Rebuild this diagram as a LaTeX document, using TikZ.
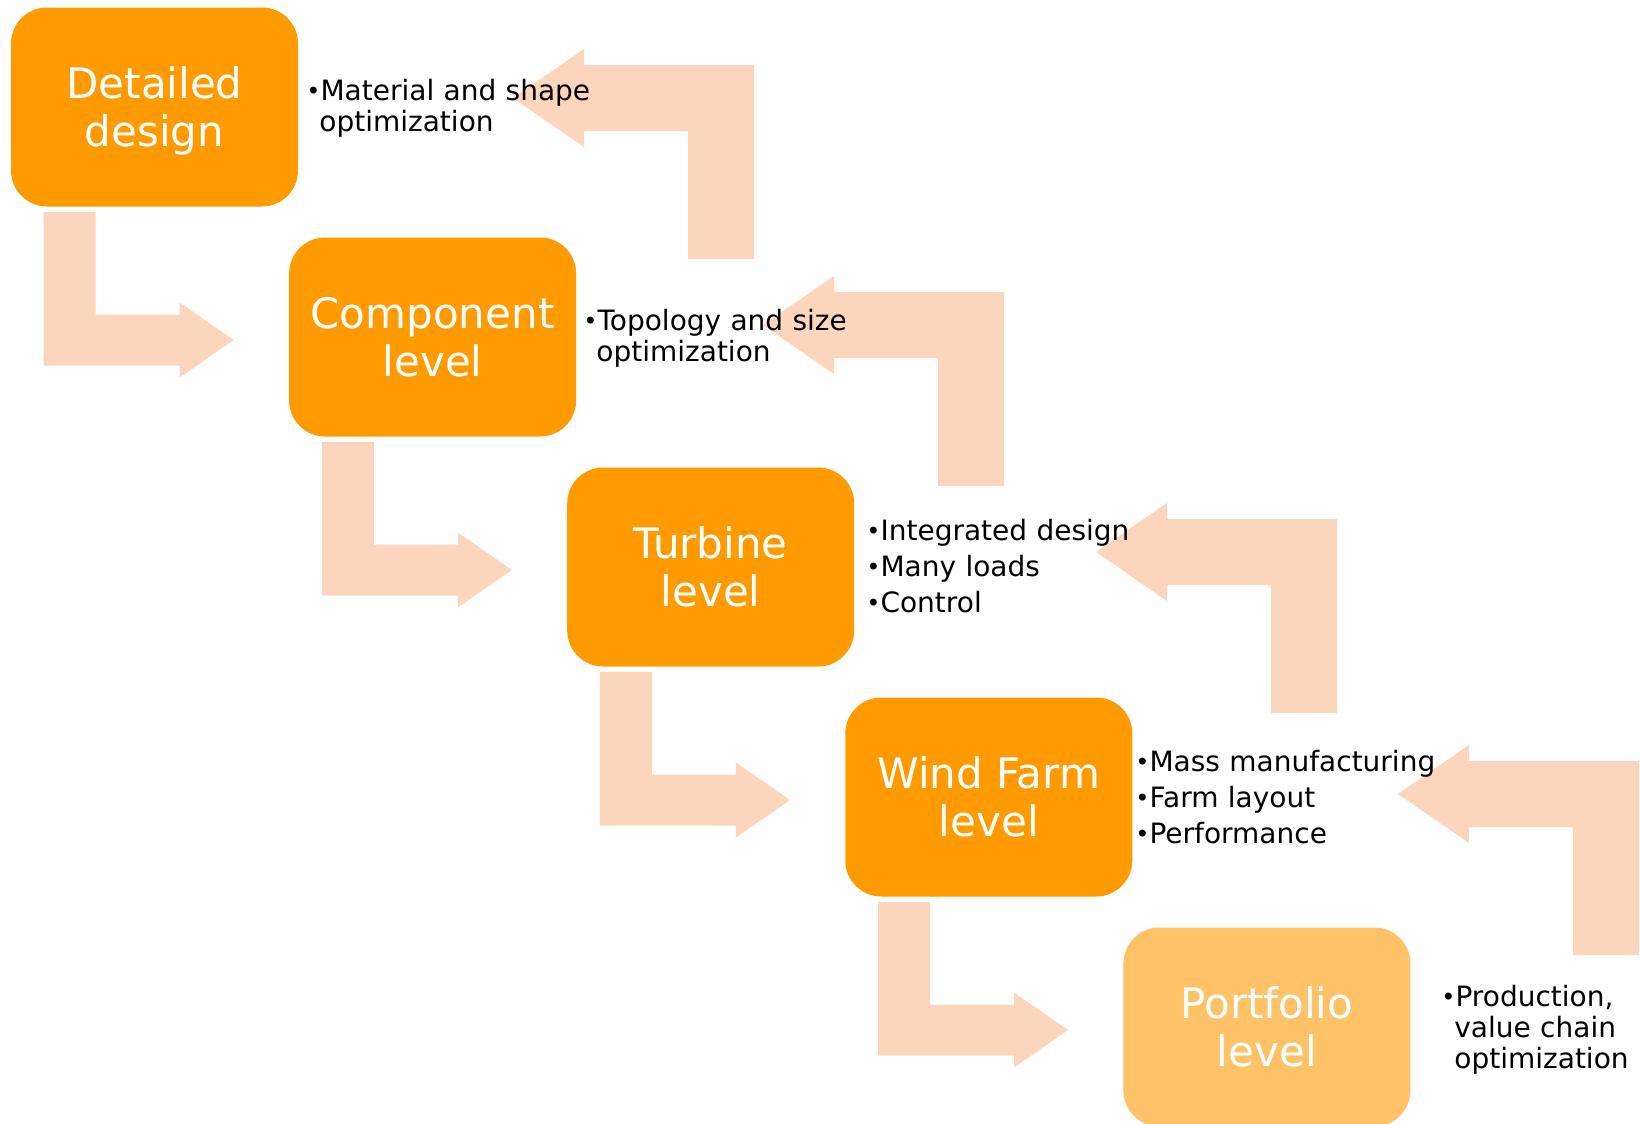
\documentclass[tikz,border=0pt]{standalone}
\usepackage{fontspec}
\setmainfont{DejaVu Sans}
\usetikzlibrary{calc}
\definecolor{boxorange}{HTML}{FF9A00}
\definecolor{boxlight}{HTML}{FFC266}
\definecolor{peach}{HTML}{FCD5BD}
\newcommand{\bul}{\raisebox{0.5pt}{\fontsize{12}{12}\selectfont •}}
\newcommand{\cont}{\hspace*{6.5pt}}

\tikzset{
	stage/.style={fill=boxorange, text=white, rounded corners=18pt, minimum width=143.5pt, minimum height=99.5pt,
		align=center, inner sep=0pt, font=\fontsize{21}{24}\selectfont},
	bullets/.style={anchor=base west, inner sep=0pt, text width=150pt, align=left, font=\fontsize{14}{15.5}\selectfont},
	downbend/.pic={\fill[peach] (-190,-128) -- (-138,-128) -- (-138,-25.5) -- (-54,-25.5) -- (-54,-37.5) -- (0,0)
		-- (-54,37.5) -- (-54,25.5) -- (-190,25.5) -- cycle;},
	upbend/.pic={\fill[peach] (0,0) -- (71,-49) -- (71,-33) -- (241,-33) -- (241,161) -- (175,161) -- (175,33)
		-- (71,33) -- (71,49) -- cycle;}
}

\begin{document}
\begin{tikzpicture}[x=0.5pt,y=-0.5pt]
	\useasboundingbox (0,0) rectangle (1640,1124);
	% the five levels
	\node[stage] (detail) at (154.5,107) {Detailed\\\raisebox{0pt}[\height][0pt]{design}};
	\node[stage] (comp) at (432.6,337) {Component\\level};
	\node[stage] (turb) at (710.7,567) {Turbine\\level};
	\node[stage] (farm) at (988.8,797) {Wind Farm\\level};
	\node[stage, fill=boxlight] (port) at (1266.9,1027) {Portfolio\\level};
	% going down
	\pic at ($(comp.west)+(-55,3)$) {downbend};
	\pic at ($(turb.west)+(-55,3)$) {downbend};
	\pic at ($(farm.west)+(-55,3)$) {downbend};
	\pic at ($(port.west)+(-55,3)$) {downbend};
	% going back up
	\coordinate (up1) at (513,98);
	\coordinate (up2) at (763,325);
	\coordinate (up3) at (1096,552);
	\coordinate (up4) at (1398,794);
	\pic at (up1) {upbend};
	\pic at (up2) {upbend};
	\pic at (up3) {upbend};
	\pic at (up4) {upbend};
	% what is optimized at each level
	\node[bullets] (t1) at (306,100) {\bul Material and shape\\\cont optimization};
	\node[bullets] (t2) at (583,330) {\bul Topology and size\\\cont optimization};
	\node[bullets] (t3) at (866,540) {\bul Integrated design\\[2.5pt]\bul Many loads\\[2.5pt]\bul Control};
	\node[bullets] (t4) at (1135,771) {\bul Mass manufacturing\\[2.5pt]\bul Farm layout\\[2.5pt]\bul Performance};
	\node[bullets] (t5) at (1441,1006) {\bul Production,\\\cont value chain\\\cont optimization};
\end{tikzpicture}
\end{document}
